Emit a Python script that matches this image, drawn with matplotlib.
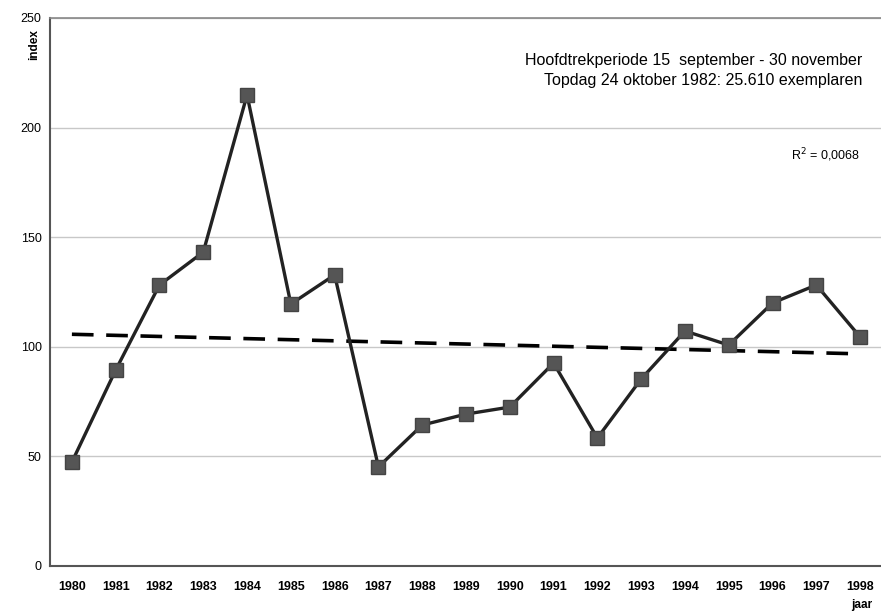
import numpy as np
import matplotlib
matplotlib.use("Agg")
import matplotlib.pyplot as plt

plt.rcParams['font.family'] = ['Liberation Sans', 'DejaVu Sans']

years = [1980, 1981, 1982, 1983, 1984, 1985, 1986, 1987, 1988, 1989,
         1990, 1991, 1992, 1993, 1994, 1995, 1996, 1997, 1998]
index_values = [47.4, 89.4, 128.2, 143.2, 214.9, 119.5, 132.8, 45.2, 64.3, 69.3,
                72.5, 92.6, 58.4, 85.3, 107.2, 100.8, 120.0, 128.2, 104.5]
y_ticks = [0, 50, 100, 150, 200, 250]

fig = plt.figure(figsize=(8.81, 6.14), dpi=100)
ax = fig.add_axes([50/881, 1-566/614, 832/881, (566-18)/614])

x = np.array(years, dtype=float)
y = np.array(index_values)

for t in y_ticks[1:]:
    ax.axhline(t, color='#c8c8c8', lw=1.0, zorder=0)

coef = np.polyfit(x, y, 1)
trend = np.polyval(coef, x)
ax.plot(x, trend, color='black', lw=2.6, ls=(0, (6, 3.5)), zorder=2)

ax.plot(x, y, color='#222222', lw=2.4, marker='s', markersize=9.5,
        markerfacecolor='#555555', markeredgecolor='#444444', zorder=3)

ax.set_xlim(1979.5, 1998.5)
ax.set_ylim(0, 250)
ax.set_yticks(y_ticks)
ax.set_yticklabels([str(v) for v in y_ticks], fontsize=9)
ax.set_xticks(years)
ax.set_xticklabels([str(v) for v in years], fontsize=9, fontweight='bold')
ax.tick_params(axis='both', length=0, pad=6)
ax.tick_params(axis='x', pad=11)

ax.spines['right'].set_visible(False)
for s in ['left', 'bottom']:
    ax.spines[s].set_color('#555555')
    ax.spines[s].set_linewidth(1.5)
ax.spines['top'].set_color('#888888')
ax.spines['top'].set_linewidth(1.2)

fig.text(34/881, 1-45/614, 'index', rotation=90, fontsize=8.5, fontweight='bold',
         ha='center', va='center')
fig.text(862/881, 1-605/614, 'jaar', fontsize=8.5, fontweight='bold', ha='center', va='center')

fig.text(862/881, 1-60/614, 'Hoofdtrekperiode 15  september - 30 november',
         fontsize=11.5, ha='right', va='center')
fig.text(862/881, 1-80/614, 'Topdag 24 oktober 1982: 25.610 exemplaren',
         fontsize=11.5, ha='right', va='center')
fig.text(860/881, 1-155/614, 'R$^2$ = 0,0068', fontsize=9, ha='right', va='center')

fig.savefig('out.png', dpi=100)
